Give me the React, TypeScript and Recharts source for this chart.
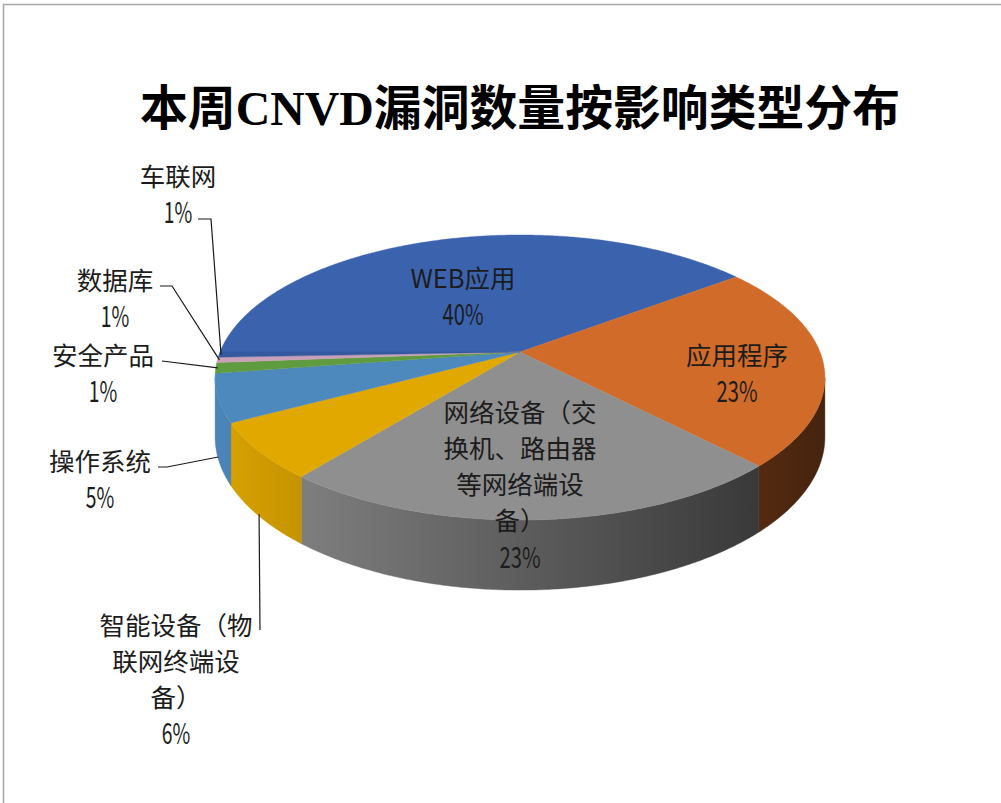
import React from 'react';
import { PieChart, Pie } from 'recharts';

// ---------- data ----------
const categories: string[] = [
  'WEB应用',
  '应用程序',
  '网络设备（交换机、路由器等网络端设备）',
  '智能设备（物联网终端设备）',
  '操作系统',
  '安全产品',
  '数据库',
  '车联网',
];
const shares: number[] = [39.7, 23.1, 23.0, 6.4, 5.4, 1.2, 0.6, 0.6];
const topColors: string[] = ['#3B63AD', '#D06B29', '#8F8F8F', '#E1A800', '#4E89BE', '#5F9B3F', '#C9A0B9', '#34599F'];
const TITLE = '本周CNVD漏洞数量按影响类型分布';

const data = categories.map((name, i) => ({ name, value: shares[i] }));

// ---------- layout ----------
const W = 1001;
const H = 803;
const CX = 520;
const CY = 352;
const R = 300;
const K = 0.179; // perspective strength
const B_RATIO = 0.46; // vertical squash
const DEPTH = 57.5; // wall thickness
const FRONT_LO = -180 + (Math.asin(K) * 180) / Math.PI;
const FRONT_HI = -(Math.asin(K) * 180) / Math.PI;

type LabelBox = { x: number; y: number; leader?: number[][]; anchor?: 'wall' | 'edge' };
const LABEL_BOX: LabelBox[] = [
  { x: 463, y: 278 },
  { x: 737, y: 355 },
  { x: 520, y: 412 },
  { x: 176, y: 625, leader: [[260, 630]], anchor: 'wall' },
  { x: 100, y: 461, leader: [[158, 467], [167, 467]], anchor: 'wall' },
  { x: 103, y: 355, leader: [[162, 361]], anchor: 'edge' },
  { x: 115, y: 280, leader: [[160, 286], [172, 286]], anchor: 'edge' },
  { x: 178, y: 176, leader: [[198, 219], [211, 219]], anchor: 'edge' },
];

const LABEL_FONT = "'Noto Sans CJK SC', 'Noto Sans', sans-serif";
const LINE_GAP = 36.3;
const FS = 25.5;

// ---------- helpers ----------
function proj(cx: number, cy: number, r: number, angDeg: number, frac = 1) {
  const a = (angDeg * Math.PI) / 180;
  const u = Math.cos(a) * frac;
  const v = Math.sin(a) * frac;
  const w = 1 + K * v;
  return { x: cx + (r * u) / w, y: cy - (r * B_RATIO * v) / w, w };
}

function arcPoints(cx: number, cy: number, r: number, a1: number, a2: number, drop: boolean) {
  const pts: number[][] = [];
  const n = Math.max(2, Math.ceil(Math.abs(a2 - a1) / 0.5));
  for (let i = 0; i <= n; i++) {
    const a = a1 + ((a2 - a1) * i) / n;
    const p = proj(cx, cy, r, a);
    pts.push([p.x, p.y + (drop ? DEPTH / p.w : 0)]);
  }
  return pts;
}

function shade(hex: string, f: number) {
  const n = parseInt(hex.slice(1), 16);
  const r = Math.round(((n >> 16) & 255) * f);
  const g = Math.round(((n >> 8) & 255) * f);
  const b = Math.round((n & 255) * f);
  return `rgb(${r},${g},${b})`;
}

const NO_START = '）)、，。';
function wrapLabel(text: string, max = 6): string[] {
  const chars = Array.from(text);
  const lines: string[][] = [];
  let cur: string[] = [];
  for (const c of chars) {
    if (cur.length >= max) {
      if (NO_START.includes(c)) {
        const last = cur.pop() as string;
        lines.push(cur);
        cur = [last, c];
        continue;
      }
      lines.push(cur);
      cur = [];
    }
    cur.push(c);
  }
  if (cur.length) lines.push(cur);
  return lines.map((l) => l.join(''));
}

const ptsToPath = (pts: number[][]) => pts.map((p, i) => `${i ? 'L' : 'M'}${p[0].toFixed(2)},${p[1].toFixed(2)}`).join(' ');

// ---------- renderers ----------
const renderSlice = (props: any) => {
  const { cx, cy, outerRadius, startAngle, endAngle, index } = props;
  const color = topColors[index];
  const top = arcPoints(cx, cy, outerRadius, startAngle, endAngle, false);
  const topPath = `M${cx},${cy} ` + top.map((p) => `L${p[0].toFixed(2)},${p[1].toFixed(2)}`).join(' ') + ' Z';
  const lo = Math.min(startAngle, endAngle);
  const hi = Math.max(startAngle, endAngle);
  const walls: string[] = [];
  for (const off of [-360, 0, 360]) {
    const a = Math.max(lo, FRONT_LO + off);
    const b = Math.min(hi, FRONT_HI + off);
    if (b > a) {
      const t = arcPoints(cx, cy, outerRadius, a, b, false);
      const bt = arcPoints(cx, cy, outerRadius, b, a, true);
      walls.push(ptsToPath([...t, ...bt]) + ' Z');
    }
  }
  const gid = `wallgrad-${index}`;
  return (
    <g key={`slice-${index}`}>
      <defs>
        <linearGradient id={gid} gradientUnits="userSpaceOnUse" x1={cx - outerRadius * 1.02} x2={cx + outerRadius * 1.02} y1={0} y2={0}>
          <stop offset="0" stopColor={shade(color, 0.97)} />
          <stop offset="1" stopColor={shade(color, 0.33)} />
        </linearGradient>
      </defs>
      {walls.map((d, i) => (
        <path key={i} d={d} fill={`url(#${gid})`} stroke={`url(#${gid})`} strokeWidth={0.4} />
      ))}
      <path d={topPath} fill={color} stroke={color} strokeWidth={0.4} />
    </g>
  );
};

const renderText = (props: any) => {
  const { index, percent, cx, cy, outerRadius, startAngle, endAngle } = props;
  const box = LABEL_BOX[index];
  const lines = wrapLabel(categories[index]);
  const pct = `${Math.round(percent * 100)}%`;
  const pctWidth = 12.5 * (pct.length - 1) + 16;
  let leader: React.ReactNode = null;
  if (box.leader) {
    const mid = (startAngle + endAngle) / 2;
    const p = proj(cx, cy, outerRadius, mid);
    const anchor = box.anchor === 'wall' ? [p.x, p.y + DEPTH / p.w - 2] : [p.x + 2, p.y];
    leader = (
      <polyline
        points={[...box.leader, anchor].map((q) => `${q[0]},${q[1]}`).join(' ')}
        fill="none"
        stroke="#1a1a1a"
        strokeWidth={1.2}
      />
    );
  }
  return (
    <g key={`label-${index}`}>
      {leader}
      {lines.map((ln, i) => (
        <text
          key={i}
          x={box.x}
          y={box.y + i * LINE_GAP + 9.5}
          textAnchor="middle"
          fontFamily={LABEL_FONT}
          fontSize={FS}
          fill="#1c1c1c"
        >
          {ln}
        </text>
      ))}
      <text
        x={box.x}
        y={box.y + lines.length * LINE_GAP + 10.5}
        textAnchor="middle"
        fontFamily={LABEL_FONT}
        fontSize={29}
        fill="#1c1c1c"
        textLength={pctWidth}
        lengthAdjust="spacingAndGlyphs"
      >
        {pct}
      </text>
    </g>
  );
};

export default function App() {
  return (
    <div style={{ position: 'absolute', left: 0, top: 0, width: W, height: H, background: '#ffffff', overflow: 'hidden' }}>
      <svg width={W} height={H} style={{ position: 'absolute', left: 0, top: 0 }}>
        <line x1={3} y1={4.5} x2={W} y2={4.5} stroke="#A8A8A8" strokeWidth={1.6} />
        <line x1={3.5} y1={4} x2={3.5} y2={H} stroke="#A8A8A8" strokeWidth={1.6} />
        <text
          x={520}
          y={125}
          textAnchor="middle"
          fontFamily="'Liberation Serif', 'Noto Sans CJK SC', serif"
          fontWeight="bold"
          fontSize={48}
          fill="#000000"
          textLength={760}
          lengthAdjust="spacingAndGlyphs"
        >
          {TITLE}
        </text>
      </svg>
      <div style={{ position: 'absolute', left: 0, top: 0 }}>
        <PieChart width={W} height={H} margin={{ top: 0, right: 0, bottom: 0, left: 0 }}>
          <Pie
            data={data}
            dataKey="value"
            nameKey="name"
            cx={CX}
            cy={CY}
            outerRadius={R}
            startAngle={180}
            endAngle={-180}
            isAnimationActive={false}
            fill="#000"
            fillOpacity={0}
            stroke="none"
            labelLine={false}
            label={renderSlice}
          />
          <Pie
            data={data}
            dataKey="value"
            nameKey="name"
            cx={CX}
            cy={CY}
            outerRadius={R}
            startAngle={180}
            endAngle={-180}
            isAnimationActive={false}
            fill="#000"
            fillOpacity={0}
            stroke="none"
            labelLine={false}
            label={renderText}
          />
        </PieChart>
      </div>
    </div>
  );
}
